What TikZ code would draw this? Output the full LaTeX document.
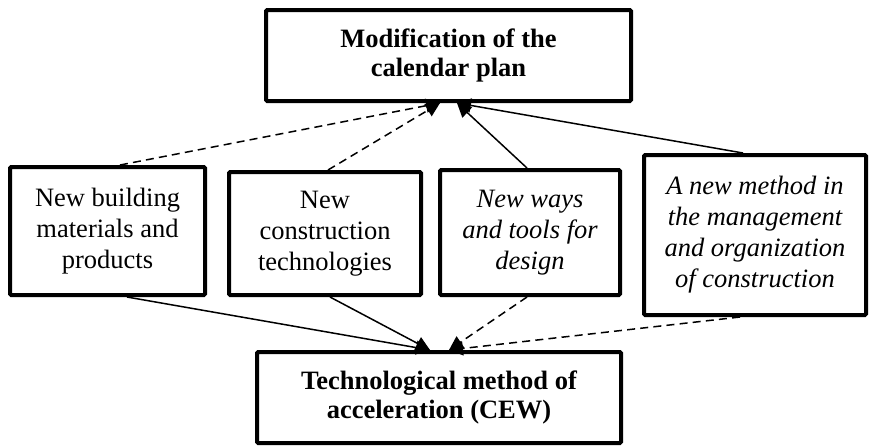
\documentclass[tikz,border=0pt]{standalone}
\usepackage{fontspec}
\setmainfont{Liberation Serif}
\usetikzlibrary{arrows.meta,calc}
\tikzset{
  box/.style={draw, line width=2pt, inner sep=0pt, align=center, rounded corners=0.6pt,
    font=\fontsize{13.25pt}{15.5pt}\selectfont},
  conn/.style={line width=0.75pt, -{Triangle[length=7pt,width=7pt]}},
  dconn/.style={conn, dash pattern=on 4pt off 2.6pt},
}
\begin{document}
\begin{tikzpicture}[x=0.5pt,y=-0.5pt]
\useasboundingbox (0,0) rectangle (869,447);
\node[box, minimum width=182.5pt, minimum height=45.5pt, font=\fontsize{13.25pt}{14.5pt}\selectfont\bfseries] (top) at (448.5,55.5) {Modification of the\\calendar plan};
\node[box, minimum width=97.5pt, minimum height=64pt] (b1) at (107.5,231) {New building\\materials and\\products};
\node[box, minimum width=96pt, minimum height=61.5pt] (b2) at (325,233.5) {New\\construction\\technologies};
\node[box, minimum width=90pt, minimum height=62.5pt, font=\fontsize{13.25pt}{15.5pt}\selectfont\itshape] (b3) at (530,232.5) {New ways\\and tools for\\design};
\node[box, minimum width=111pt, minimum height=80pt, font=\fontsize{13.25pt}{15.5pt}\selectfont\itshape] (b4) at (755,235) {A new method in\\the management\\and organization\\of construction};
\node[box, minimum width=182pt, minimum height=45.5pt, font=\fontsize{13.25pt}{14.5pt}\selectfont\bfseries] (bot) at (439,397.5) {Technological method of\\acceleration (CEW)};
% targets
\coordinate (tL) at ([xshift=-4.25pt]top.south);
\coordinate (tR) at ([xshift=4.25pt]top.south);
\coordinate (bL) at ([xshift=-4.5pt]bot.north);
\coordinate (bR) at ([xshift=5pt]bot.north);
% upward connectors
\draw[dconn] ([xshift=6.25pt]b1.north) -- (tL);
\draw[dconn] ([xshift=1.5pt]b2.north) -- (tL);
\draw[conn] ([xshift=-1.5pt]b3.north) -- (tR);
\draw[conn] ([xshift=-6pt]b4.north) -- (tR);
% downward connectors
\draw[conn] ([xshift=9.75pt]b1.south) -- (bL);
\draw[conn] ([xshift=2.5pt]b2.south) -- (bL);
\draw[dconn] ([xshift=-1.5pt]b3.south) -- (bR);
\draw[dconn] ([xshift=-7.5pt]b4.south) -- (bR);
\end{tikzpicture}
\end{document}
